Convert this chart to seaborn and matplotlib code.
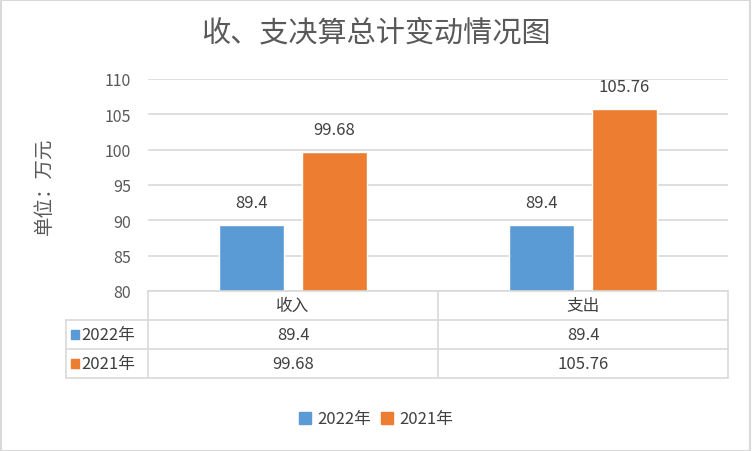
import matplotlib
matplotlib.use("Agg")
import matplotlib.pyplot as plt
import matplotlib.patches as mpatches
from matplotlib.lines import Line2D
import seaborn as sns
import pandas as pd

categories = ["收入", "支出"]
series_names = ["2022年", "2021年"]
values_2022 = [89.4, 89.4]
values_2021 = [99.68, 105.76]
value_labels_2022 = ["89.4", "89.4"]
value_labels_2021 = ["99.68", "105.76"]
yticks = [80, 85, 90, 95, 100, 105, 110]
title = "收、支决算总计变动情况图"
ylabel = "单位：万元"
colors = ["#5B9BD5", "#ED7D31"]

sns.set_theme(style="white")
plt.rcParams['font.family'] = ['Noto Sans CJK SC', 'DejaVu Sans']
txt = "#595959"
grid = "#D9D9D9"

df = pd.DataFrame({
    "category": categories * 2,
    "series": [series_names[0]] * 2 + [series_names[1]] * 2,
    "value": values_2022 + values_2021,
})

fig = plt.figure(figsize=(7.52, 4.52), dpi=100)
fig.patches.append(mpatches.Rectangle((0.001, 0.001), 0.997, 0.996, transform=fig.transFigure,
                                      fill=False, edgecolor=grid, linewidth=1.5))
ax = fig.add_axes([148 / 752, 1 - 292 / 452, 580 / 752, 212 / 452])

sns.barplot(data=df, x="category", y="value", hue="series", palette=colors,
            width=0.572, gap=0.217, ax=ax, legend=False, saturation=1)

ax.set_ylim(80, 110)
ax.set_xlim(-0.5, 1.5)
ax.set_yticks(yticks)
ax.set_yticklabels([str(t) for t in yticks], fontsize=11.5, color=txt)
ax.tick_params(axis="y", length=0, pad=12)
ax.set_xticks([])
ax.set_xlabel("")
ax.set_ylabel(ylabel, fontsize=14, color=txt, labelpad=36, fontweight="light")
ax.yaxis.grid(True, color=grid, linewidth=1.2)
ax.set_axisbelow(True)
for s in ax.spines.values():
    s.set_visible(False)

labels_all = [value_labels_2022, value_labels_2021]
for cont, labs in zip(ax.containers, labels_all):
    ax.bar_label(cont, labels=labs, padding=10, fontsize=12, color="#404040")

fig.suptitle(title, y=0.96, fontsize=21, color=txt, fontweight="light")

# data table below the axes
rh = 29 / 212
left_ext = -82 / 580
lkw = dict(color=grid, linewidth=1.2, transform=ax.transAxes, clip_on=False)
# horizontal lines
ax.add_line(Line2D([0, 1], [0, 0], **lkw))
ax.add_line(Line2D([left_ext, 1], [-rh, -rh], **lkw))
ax.add_line(Line2D([left_ext, 1], [-2 * rh, -2 * rh], **lkw))
ax.add_line(Line2D([left_ext, 1], [-3 * rh, -3 * rh], **lkw))
# vertical lines
ax.add_line(Line2D([0, 0], [0, -3 * rh], **lkw))
ax.add_line(Line2D([0.5, 0.5], [0, -3 * rh], **lkw))
ax.add_line(Line2D([1, 1], [0, -3 * rh], **lkw))
ax.add_line(Line2D([left_ext, left_ext], [-rh, -3 * rh], **lkw))

for i, cat in enumerate(categories):
    ax.text((i + 0.5) / 2, -0.5 * rh, cat, transform=ax.transAxes, ha="center", va="center",
            fontsize=12, color="#404040")
for r, (name, labs) in enumerate(zip(series_names, labels_all)):
    yc = -(r + 1.5) * rh
    for i, lab in enumerate(labs):
        ax.text((i + 0.5) / 2, yc, lab, transform=ax.transAxes, ha="center", va="center",
                fontsize=12, color="#404040")
    ax.add_patch(mpatches.Rectangle((left_ext + 5 / 580, yc - 4.5 / 212), 8 / 580, 9 / 212,
                                    transform=ax.transAxes, clip_on=False, color=colors[r]))
    ax.text(left_ext + 15 / 580, yc, name, transform=ax.transAxes, ha="left", va="center",
            fontsize=12, color="#404040")

handles = [mpatches.Patch(color=c, label=n) for c, n in zip(colors, series_names)]
fig.legend(handles=handles, loc="center", bbox_to_anchor=(0.5, 1 - 420 / 452), ncol=2,
           frameon=False, fontsize=12, handlelength=0.7, handleheight=0.7, handletextpad=0.4,
           columnspacing=0.6, labelcolor="#404040")

fig.savefig("out.png", dpi=100)
